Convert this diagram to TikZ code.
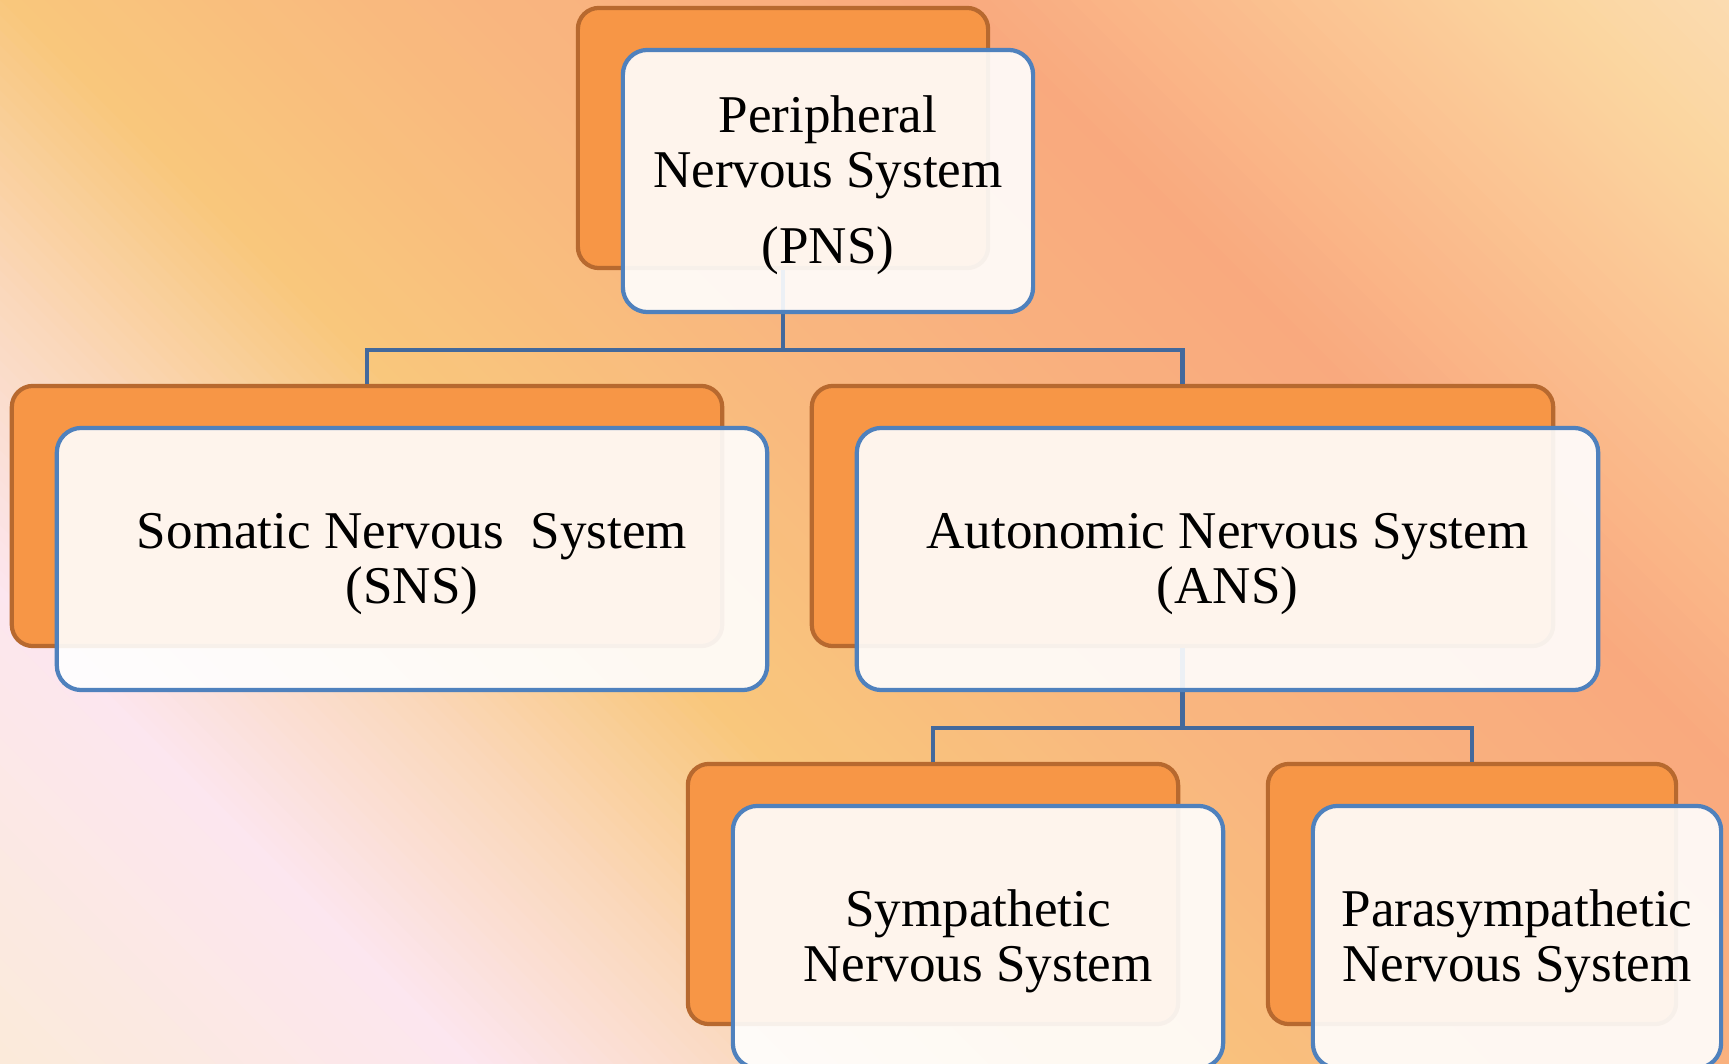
\documentclass[tikz,border=0pt]{standalone}
\usepackage{fontspec}
\setmainfont{Liberation Serif}
\usepackage{xcolor}

\definecolor{boxorange}{HTML}{F79646}
\definecolor{boxbrown}{HTML}{B7692F}
\definecolor{boxblue}{HTML}{4F81BD}
\definecolor{linkblue}{HTML}{43699C}
\definecolor{bgA}{HTML}{FBEBD6}
\definecolor{bgB}{HTML}{FCE6EF}
\definecolor{bgC}{HTML}{FAD8BC}
\definecolor{bgD}{HTML}{F9C77C}
\definecolor{bgE}{HTML}{F9B67F}
\definecolor{bgF}{HTML}{F9A97E}
\definecolor{bgG}{HTML}{FBC795}
\definecolor{bgH}{HTML}{FBD6A0}
\definecolor{bgI}{HTML}{FBDDB8}

\begin{document}
\begin{tikzpicture}[x=0.01cm, y=-0.01cm, inner sep=0pt]
		\tikzstyle{every node}=[align=center]
		\tikzset{back/.style={draw=boxbrown, fill=boxorange, line width=1.2pt, rounded corners=6pt, minimum height=2.6cm},
			front/.style={draw=boxblue, fill=white, fill opacity=0.9, text opacity=1, line width=1.2pt, rounded corners=7pt, minimum height=2.62cm, font=\fontsize{15.1}{15.7}\selectfont},
			link/.style={draw=linkblue, line width=1.2pt}}
		\useasboundingbox (0,0) rectangle (1729,1064);

		% background, diagonal bands
		\begin{scope}
			\clip (0,0) rectangle (1729,1064);
			\foreach \ua/\ub/\ca/\cb in {-1150/-600/bgA/bgB, -600/-300/bgB/bgC, -300/0/bgC/bgD, 0/450/bgD/bgE, 450/950/bgE/bgF, 950/1350/bgF/bgG, 1350/1550/bgG/bgH, 1550/1800/bgH/bgI} {
				\foreach \k in {0,...,19} {
					\pgfmathsetmacro{\uu}{\ua+(\ub-\ua)*\k/20}
					\pgfmathsetmacro{\uw}{\ua+(\ub-\ua)*(\k+1)/20+3}
					\pgfmathtruncatemacro{\pc}{100-5*\k}
					\fill[\ca!\pc!\cb] (\uu-50,-50) -- (\uw-50,-50) -- (\uw+1150,1150) -- (\uu+1150,1150) -- cycle;
				}
			}
		\end{scope}

		\node[back, minimum width=4.1cm] (pnsback) at (783,138) {};
		\node[back, minimum width=7.1cm] (snsback) at (367,516) {};
		\node[back, minimum width=7.41cm] (ansback) at (1182.5,516) {};
		\node[back, minimum width=4.9cm] (sympback) at (933,894) {};
		\node[back, minimum width=4.08cm] (paraback) at (1472,894) {};

		\draw[link] (pnsback.south) -- ++(0,80) -| (snsback.north);
		\draw[link] (pnsback.south) -- ++(0,80) -| (ansback.north);
		\draw[link] (ansback.south) -- ++(0,80) -| (sympback.north);
		\draw[link] (ansback.south) -- ++(0,80) -| (paraback.north);

		\node[front, minimum width=4.1cm] (pns) at (828,181) {\rule{0pt}{0.45cm}Peripheral\\Nervous System\\[6pt](PNS)};
		\node[front, minimum width=7.1cm] (sns) at (412,559) {\rule{0pt}{0.46cm}Somatic Nervous\ \ System\\(SNS)};
		\node[front, minimum width=7.41cm] (ans) at (1227.5,559) {\rule{0pt}{0.46cm}Autonomic Nervous System\\(ANS)};
		\node[front, minimum width=4.9cm] (symp) at (978,937) {\rule{0pt}{0.45cm}Sympathetic\\Nervous System};
		\node[front, minimum width=4.08cm] (para) at (1517,937) {\rule{0pt}{0.45cm}Parasympathetic\\Nervous System};
\end{tikzpicture}
\end{document}
